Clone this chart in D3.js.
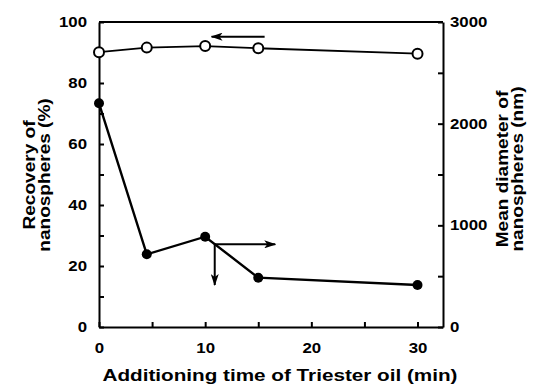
<!DOCTYPE html>
<html>
<head>
<meta charset="utf-8">
<script src="https://cdn.jsdelivr.net/npm/d3@7"></script>
<style>
  body { margin: 0; background: #fff; }
  text { font-family: "Liberation Sans", Arial, sans-serif; font-weight: bold; fill: #000; }
</style>
</head>
<body>
<svg id="chart" width="548" height="384"></svg>
<script>
// data
const times = [0, 4.5, 10, 15, 30];                 // min
const recovery = [90.1, 91.6, 92.1, 91.4, 89.6];     // %  (open circles, left axis)
const diameter = [2200, 715, 888, 485, 413];         // nm (filled circles, right axis)

const xTickValues = [0, 5, 10, 15, 20, 25, 30];
const leftTickValues = [0, 10, 20, 30, 40, 50, 60, 70, 80, 90, 100];
const rightTickValues = [0, 500, 1000, 1500, 2000, 2500, 3000];

// annotation arrows [from, to]
const recoveryArrow = [[15.6, 95.2], [10.6, 95.2]];  // left-axis units
const diameterArrow = [[10.9, 813], [16.6, 813]];    // right-axis units
const downArrow = [[10.9, 813], [10.9, 413]];        // right-axis units

const svg = d3.select('#chart');
const plotL = 99, plotR = 443, plotT = 22, plotB = 327;
const stretch = 1.2;

let x = d3.scaleLinear().domain([0, 32.4]).range([plotL, plotR]);
let yL = d3.scaleLinear().domain([0, 100]).range([plotB, plotT]);
let yR = d3.scaleLinear().domain([0, 3000]).range([plotB, plotT]);

// wider glyphs like the original typeface
function widen(sel, k) {
  sel.each(function () {
    let len = this.getComputedTextLength();
    if (len > 0) d3.select(this).attr('textLength', len * k).attr('lengthAdjust', 'spacingAndGlyphs');
  });
}

// axes (ticks point into the plot)
let axB = d3.axisBottom(x).tickValues(xTickValues).tickSize(0)
  .tickPadding(16).tickFormat(d => d % 10 === 0 ? d : '');
let axL = d3.axisLeft(yL).tickValues(leftTickValues).tickSize(0)
  .tickPadding(12).tickFormat(d => d % 20 === 0 ? d : '');
let axR = d3.axisRight(yR).tickValues(rightTickValues).tickSize(0)
  .tickPadding(7).tickFormat(d => d % 1000 === 0 ? d : '');

let gB = svg.append('g').attr('transform', 'translate(0,' + plotB + ')').call(axB);
let gL = svg.append('g').attr('transform', 'translate(' + plotL + ',0)').call(axL);
let gR = svg.append('g').attr('transform', 'translate(' + plotR + ',0)').call(axR);

gB.selectAll('.tick line').attr('y2', -5);
gL.selectAll('.tick line').attr('x2', 5);
gR.selectAll('.tick line').attr('x2', -5);

[gB, gL, gR].forEach(g => {
  g.attr('font-family', null);
  g.select('.domain').attr('stroke', '#000').attr('stroke-width', 2);
  g.selectAll('.tick line').attr('stroke', '#000').attr('stroke-width', 2);
  g.selectAll('.tick text').style('font-size', '14px').call(widen, stretch);
});

// top frame line
svg.append('line')
  .attr('x1', x.range()[0]).attr('x2', x.range()[1])
  .attr('y1', plotT).attr('y2', plotT)
  .attr('stroke', '#000').attr('stroke-width', 2);

// lines
let lineRec = d3.line().x((d, i) => x(times[i])).y(d => yL(d));
let lineDia = d3.line().x((d, i) => x(times[i])).y(d => yR(d));

svg.append('path').datum(diameter).attr('d', lineDia)
  .attr('fill', 'none').attr('stroke', '#000').attr('stroke-width', 2.4);
svg.append('path').datum(recovery).attr('d', lineRec)
  .attr('fill', 'none').attr('stroke', '#000').attr('stroke-width', 1.8);

svg.selectAll('.dia').data(diameter).enter().append('circle')
  .attr('class', 'dia')
  .attr('cx', (d, i) => x(times[i])).attr('cy', d => yR(d))
  .attr('r', 5).attr('fill', '#000');

svg.selectAll('.rec').data(recovery).enter().append('circle')
  .attr('class', 'rec')
  .attr('cx', (d, i) => x(times[i])).attr('cy', d => yL(d))
  .attr('r', 5).attr('fill', '#fff').attr('stroke', '#000').attr('stroke-width', 2);

// arrows
svg.append('defs').append('marker')
  .attr('id', 'head')
  .attr('viewBox', '0 0 12 8')
  .attr('refX', 11).attr('refY', 4)
  .attr('markerWidth', 12).attr('markerHeight', 8)
  .attr('markerUnits', 'userSpaceOnUse')
  .attr('orient', 'auto')
  .append('path').attr('d', 'M0,0 L12,4 L0,8 L3,4 Z').attr('fill', '#000');

function arrow(pts, ys) {
  svg.append('line')
    .attr('x1', x(pts[0][0])).attr('y1', ys(pts[0][1]))
    .attr('x2', x(pts[1][0])).attr('y2', ys(pts[1][1]))
    .attr('stroke', '#000').attr('stroke-width', 2)
    .attr('marker-end', 'url(#head)');
}
arrow(recoveryArrow, yL);
arrow(diameterArrow, yR);
arrow(downArrow, yR);

// axis titles
svg.append('text')
  .attr('x', 280).attr('y', 381)
  .attr('text-anchor', 'middle')
  .style('font-size', '16px')
  .text('Additioning time of Triester oil (min)')
  .attr('textLength', 355).attr('lengthAdjust', 'spacingAndGlyphs');

let lt = svg.append('g').attr('transform', 'translate(0,175)');
lt.append('text').attr('transform', 'translate(35,0) rotate(-90)')
  .attr('text-anchor', 'middle').style('font-size', '16px').text('Recovery of');
lt.append('text').attr('transform', 'translate(50,0) rotate(-90)')
  .attr('text-anchor', 'middle').style('font-size', '16px').text('nanospheres (%)');
lt.selectAll('text').call(widen, 1.19);

let rt = svg.append('g').attr('transform', 'translate(0,169)');
rt.append('text').attr('transform', 'translate(508,0) rotate(-90)')
  .attr('text-anchor', 'middle').style('font-size', '16px').text('Mean diameter of');
rt.append('text').attr('transform', 'translate(523,0) rotate(-90)')
  .attr('text-anchor', 'middle').style('font-size', '16px').text('nanospheres (nm)');
rt.selectAll('text').call(widen, 1.19);
</script>
</body>
</html>
